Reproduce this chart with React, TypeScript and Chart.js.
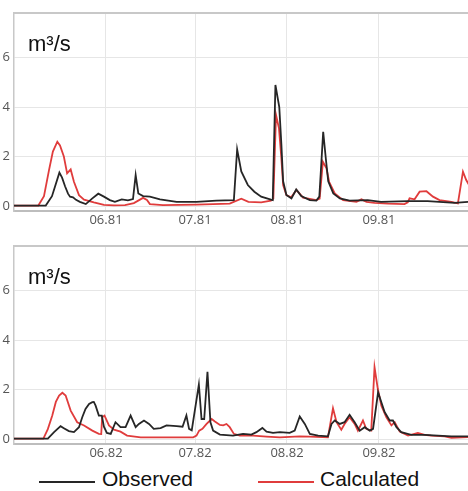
import React, { useEffect, useRef } from "react";
import { Chart, registerables } from "chart.js";

Chart.register(...registerables);

// x values are days counted from 1 May; y values in m³/s
const monthTickDays = [31, 61, 92, 123];
const monthLabels1981 = ["06.81", "07.81", "08.81", "09.81"];
const monthLabels1982 = ["06.82", "07.82", "08.82", "09.82"];
const yTickValues = [0, 2, 4, 6];
const unitLabel = "m³/s";
const seriesNames = ["Observed", "Calculated"];

const observed1981: [number, number][] = [
  [0, 0.02], [10.7, 0.02], [12.8, 0.4], [15.3, 1.35], [16.2, 1.15], [17.2, 0.8], [18.2, 0.5],
  [18.9, 0.38], [19.9, 0.35], [20.9, 0.25], [22.2, 0.17], [24.2, 0.08], [26.3, 0.3], [28.4, 0.5],
  [30.3, 0.38], [32.3, 0.24], [34.0, 0.17], [36.3, 0.27], [38.4, 0.23], [40.1, 0.28], [41.0, 1.25],
  [41.9, 0.51], [43.5, 0.4], [45.8, 0.38], [49.2, 0.27], [54.8, 0.17], [61.5, 0.17], [68.2, 0.22],
  [74.1, 0.24], [75.2, 2.29], [76.6, 1.4], [78.8, 0.85], [81.0, 0.58], [83.3, 0.38], [86.6, 0.26],
  [87.2, 0.24], [88.1, 4.89], [89.4, 4.0], [90.1, 2.5], [90.7, 1.0], [91.8, 0.45], [93.5, 0.31],
  [95.1, 0.67], [96.8, 0.4], [99.7, 0.24], [101.9, 0.22], [102.9, 0.38], [104.2, 3.0], [105.1, 1.9],
  [105.9, 1.0], [107.6, 0.51], [109.8, 0.31], [113.1, 0.22], [119.2, 0.24], [123.7, 0.17],
  [132.7, 0.2], [139.4, 0.2], [148.5, 0.13], [153, 0.17],
];

const calculated1981: [number, number][] = [
  [0, 0.02], [8.2, 0.02], [10.1, 0.4], [11.8, 1.45], [13.1, 2.2], [14.6, 2.6], [15.5, 2.45],
  [16.8, 2.0], [17.9, 1.32], [19.1, 1.48], [20.2, 0.98], [21.9, 0.44], [23.6, 0.26], [26.9, 0.15],
  [30.3, 0.05], [33.7, 0.03], [37.4, 0.04], [40.4, 0.12], [43.5, 0.33], [44.8, 0.25], [45.8, 0.08],
  [50.2, 0.04], [61.5, 0.06], [72.7, 0.1], [76.6, 0.3], [79.0, 0.17], [83.3, 0.15], [86.6, 0.22],
  [87.4, 0.3], [88.3, 3.68], [89.3, 3.14], [90.1, 1.93], [90.7, 0.85], [91.8, 0.44], [93.4, 0.35],
  [95.2, 0.65], [97.4, 0.34], [101.9, 0.24], [103.0, 0.3], [104.1, 1.79], [105.3, 1.52],
  [106.2, 0.98], [108.1, 0.51], [110.9, 0.24], [115.4, 0.17], [117.1, 0.27], [118.8, 0.17],
  [121.5, 0.13], [126.0, 0.1], [131.6, 0.08], [132.7, 0.15], [133.3, 0.31], [135.0, 0.27],
  [136.7, 0.58], [139.0, 0.6], [141.2, 0.38], [143.4, 0.24], [147.4, 0.17], [149.6, 0.11],
  [151.3, 1.39], [152.4, 1.05], [153.6, 0.8],
];

const observed1982: [number, number][] = [
  [0, 0.02], [11.4, 0.02], [13.5, 0.28], [15.7, 0.52], [16.8, 0.44], [18.5, 0.32], [20.2, 0.28],
  [21.9, 0.48], [23.0, 0.88], [24.1, 1.22], [25.3, 1.42], [26.4, 1.49], [26.9, 1.5], [27.5, 1.35],
  [28.6, 0.95], [29.6, 0.95], [30.3, 0.5], [31.3, 0.25], [32.6, 0.21], [34.2, 0.68], [35.9, 0.48],
  [37.6, 0.48], [39.3, 0.95], [41.0, 0.48], [42.1, 0.61], [43.8, 0.75], [45.5, 0.61], [47.1, 0.41],
  [49.4, 0.44], [51.4, 0.55], [54.8, 0.52], [56.8, 0.5], [58.1, 0.95], [59.0, 0.41], [59.9, 0.35],
  [62.3, 2.2], [63.2, 0.81], [64.1, 0.81], [65.2, 2.72], [66.2, 0.68], [67.1, 0.34], [69.4, 0.18],
  [73.8, 0.14], [77.2, 0.21], [80.0, 0.18], [81.7, 0.28], [83.7, 0.45], [85.1, 0.3], [87.3, 0.25],
  [89.6, 0.28], [92.9, 0.25], [94.6, 0.34], [96.3, 0.91], [98.0, 0.61], [99.7, 0.21], [102.5, 0.14],
  [105.8, 0.11], [107.0, 0.61], [108.1, 0.75], [109.8, 0.61], [111.4, 0.68], [113.1, 0.98],
  [114.8, 0.68], [116.5, 0.34], [118.2, 0.48], [119.9, 0.34], [121.0, 0.41], [122.7, 1.89],
  [123.8, 1.49], [124.9, 1.09], [126.6, 0.75], [127.7, 0.75], [128.9, 0.48], [130.5, 0.28],
  [133.9, 0.17], [138.4, 0.17], [142.9, 0.14], [147.4, 0.11], [153, 0.11],
];

const calculated1982: [number, number][] = [
  [0, 0.02], [9.9, 0.02], [11.4, 0.4], [12.9, 0.95], [14.1, 1.5], [15.2, 1.76], [16.3, 1.87],
  [17.4, 1.76], [19.1, 1.15], [21.3, 0.68], [23.6, 0.55], [26.4, 0.34], [28.6, 0.21], [29.4, 0.2],
  [29.7, 0.88], [30.5, 0.95], [32.0, 0.55], [33.7, 0.38], [35.9, 0.3], [38.1, 0.14], [42.7, 0.07],
  [49.2, 0.07], [60.4, 0.07], [61.5, 0.14], [62.4, 0.34], [63.5, 0.41], [64.9, 0.61], [66.6, 0.81],
  [67.7, 0.71], [69.4, 0.57], [70.5, 0.55], [71.6, 0.61], [72.7, 0.48], [74.1, 0.21], [76.1, 0.14],
  [80.6, 0.14], [85.1, 0.1], [89.6, 0.07], [96.3, 0.11], [99.7, 0.1], [105.8, 0.07], [107.5, 1.24],
  [108.7, 0.68], [110.3, 0.38], [111.4, 0.61], [113.1, 0.88], [114.8, 0.61], [115.9, 0.34],
  [117.6, 0.75], [118.7, 0.41], [120.4, 0.34], [121.5, 2.9], [122.6, 2.03], [123.8, 1.35],
  [125.5, 0.88], [127.2, 0.55], [128.3, 0.68], [130.0, 0.3], [132.8, 0.14], [136.1, 0.25],
  [138.4, 0.17], [140.6, 0.14], [145.1, 0.11], [147.4, 0.05], [153, 0.08],
];

const OBS_COLOR = "#262626";
const CALC_COLOR = "#e03c3c";
const TICK_FONT = { family: '"Open Sans", "DejaVu Sans", sans-serif', size: 13 };

const framePlugin = {
  id: "frameAndUnit",
  afterDraw(chart: any) {
    const { ctx, chartArea } = chart;
    ctx.save();
    ctx.strokeStyle = "#c8c8c8";
    ctx.lineWidth = 2;
    ctx.beginPath();
    ctx.moveTo(chartArea.left, chartArea.top);
    ctx.lineTo(chartArea.right, chartArea.top);
    ctx.stroke();
    ctx.fillStyle = "#111";
    ctx.font = '22px "Liberation Sans", Arial, sans-serif';
    ctx.textAlign = "left";
    ctx.textBaseline = "alphabetic";
    ctx.fillText(unitLabel, chartArea.left + 14, chartArea.top + 38);
    ctx.restore();
  },
};

function Panel(props: {
  labels: string[];
  observed: [number, number][];
  calculated: [number, number][];
  top: number;
}) {
  const ref = useRef<HTMLCanvasElement | null>(null);
  useEffect(() => {
    if (!ref.current) return;
    const chart = new Chart(ref.current, {
      type: "line",
      data: {
        datasets: [
          {
            label: seriesNames[0],
            data: props.observed.map(([x, y]) => ({ x, y })),
            borderColor: OBS_COLOR,
            borderWidth: 1.8,
            pointRadius: 0,
            tension: 0,
          },
          {
            label: seriesNames[1],
            data: props.calculated.map(([x, y]) => ({ x, y })),
            borderColor: CALC_COLOR,
            borderWidth: 1.8,
            pointRadius: 0,
            tension: 0,
          },
        ],
      },
      options: {
        responsive: false,
        animation: false,
        devicePixelRatio: 1,
        layout: { padding: { top: 13, left: 0, right: 0, bottom: 0 } },
        plugins: { legend: { display: false }, tooltip: { enabled: false } },
        scales: {
          x: {
            type: "linear",
            min: 0,
            max: 153,
            afterBuildTicks: (s: any) => {
              s.ticks = monthTickDays.map((v) => ({ value: v }));
            },
            afterFit: (s: any) => {
              s.height = 21;
            },
            ticks: {
              autoSkip: false,
              maxRotation: 0,
              padding: 1,
              color: "#555",
              font: TICK_FONT,
              callback: (_v: any, i: number) => props.labels[i],
            },
            grid: { color: "#e6e6e6", drawTicks: false },
            border: { color: "#bdbdbd", width: 2 },
          },
          y: {
            min: -0.2,
            max: 7.8,
            afterBuildTicks: (s: any) => {
              s.ticks = yTickValues.map((v) => ({ value: v }));
            },
            afterFit: (s: any) => {
              s.width = 14;
            },
            ticks: { padding: 4, color: "#555", font: TICK_FONT },
            grid: { color: "#e6e6e6", drawTicks: false },
            border: { color: "#c8c8c8", width: 1.5 },
          },
        },
      } as any,
      plugins: [framePlugin],
    });
    return () => chart.destroy();
  }, []);
  return (
    <canvas
      ref={ref}
      width={468}
      height={232}
      style={{ position: "absolute", left: 0, top: props.top, width: 468, height: 232 }}
    />
  );
}

const legendText: React.CSSProperties = {
  position: "absolute",
  top: 0,
  font: '21px "Liberation Sans", Arial, sans-serif',
  lineHeight: "23px",
  color: "#111",
  whiteSpace: "nowrap",
};

export default function App() {
  return (
    <div
      style={{
        position: "absolute",
        left: 0,
        top: 0,
        width: 468,
        height: 491,
        overflow: "hidden",
        background: "#fff",
      }}
    >
      <Panel labels={monthLabels1981} observed={observed1981} calculated={calculated1981} top={0} />
      <Panel labels={monthLabels1982} observed={observed1982} calculated={calculated1982} top={233} />
      <div style={{ position: "absolute", left: 0, top: 467, width: 468, height: 24 }}>
        <div style={{ position: "absolute", left: 39, top: 14, width: 56, height: 2, background: OBS_COLOR }} />
        <span style={{ ...legendText, left: 102 }}>{seriesNames[0]}</span>
        <div style={{ position: "absolute", left: 258, top: 14, width: 56, height: 2, background: CALC_COLOR }} />
        <span style={{ ...legendText, left: 320 }}>{seriesNames[1]}</span>
      </div>
    </div>
  );
}
